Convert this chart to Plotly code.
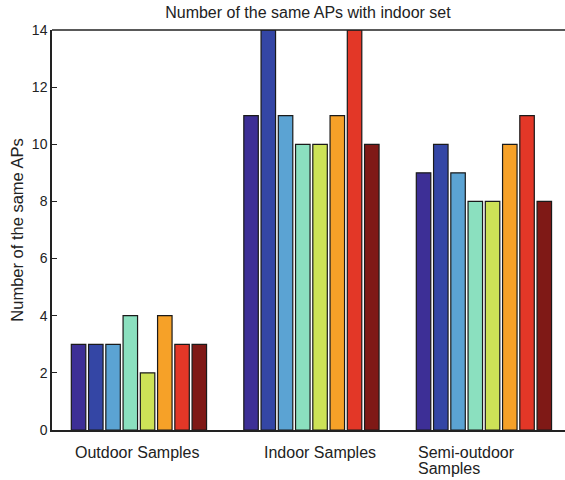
import plotly.graph_objects as go

groups = ["Outdoor Samples", "Indoor Samples", "Semi-outdoor<br>Samples"]
group_pos = [1, 2, 3]
series_values = [
    [3, 11, 9],
    [3, 14, 10],
    [3, 11, 9],
    [4, 10, 8],
    [2, 10, 8],
    [4, 11, 10],
    [3, 14, 11],
    [3, 10, 8],
]
colors = ["#3d2f96", "#3446a5", "#5ba3d3", "#8be0bf", "#cde257", "#f6a128", "#e33727", "#7f1916"]
y_ticks = [0, 2, 4, 6, 8, 10, 12, 14]

fig = go.Figure()
for vals, col in zip(series_values, colors):
    fig.add_trace(go.Bar(
        x=group_pos, y=vals,
        marker=dict(color=col, line=dict(color="#1a1a1a", width=1.2)),
        showlegend=False,
    ))

font_family = "Liberation Sans, Arial, sans-serif"
fig.update_layout(
    width=565, height=480,
    margin=dict(l=52, r=0, t=30, b=50),
    paper_bgcolor="white", plot_bgcolor="white",
    barmode="group", bargap=0.2, bargroupgap=0.16,
    font=dict(family=font_family, color="#222", size=14),
    title=dict(text="Number of the same APs with indoor set", x=0.545, xanchor="center",
               y=0.975, yanchor="middle", font=dict(size=16, color="#222")),
    xaxis=dict(range=[0.496, 3.47], showticklabels=False, ticks="", showgrid=False,
               zeroline=False, showline=True, linecolor="#222", linewidth=1.5,
               mirror=False),
    yaxis=dict(range=[0, 14], tickvals=y_ticks, ticks="inside", ticklen=5,
               tickcolor="#222", showgrid=False, zeroline=False, showline=True,
               linecolor="#222", linewidth=1.5,
               title=dict(text="Number of the same APs", font=dict(size=16.5), standoff=4),
               tickfont=dict(size=14)),
)
# top border line
fig.add_shape(type="line", xref="paper", yref="paper", x0=0, x1=1, y0=1, y1=1,
              line=dict(color="#222", width=1.5))

label_offsets = [(-0.01, "center"), (0.05, "center"), (-0.394, "left")]
for g, p, (dx, anc) in zip(groups, group_pos, label_offsets):
    for i, line in enumerate(g.split("<br>")):
        fig.add_annotation(x=p + dx, y=0, xref="x", yref="paper", text=line, showarrow=False,
                           xanchor=anc, yanchor="middle", align="left",
                           yshift=-22 - 16 * i,
                           font=dict(size=16, color="#222"))

fig.write_html("out.html")
